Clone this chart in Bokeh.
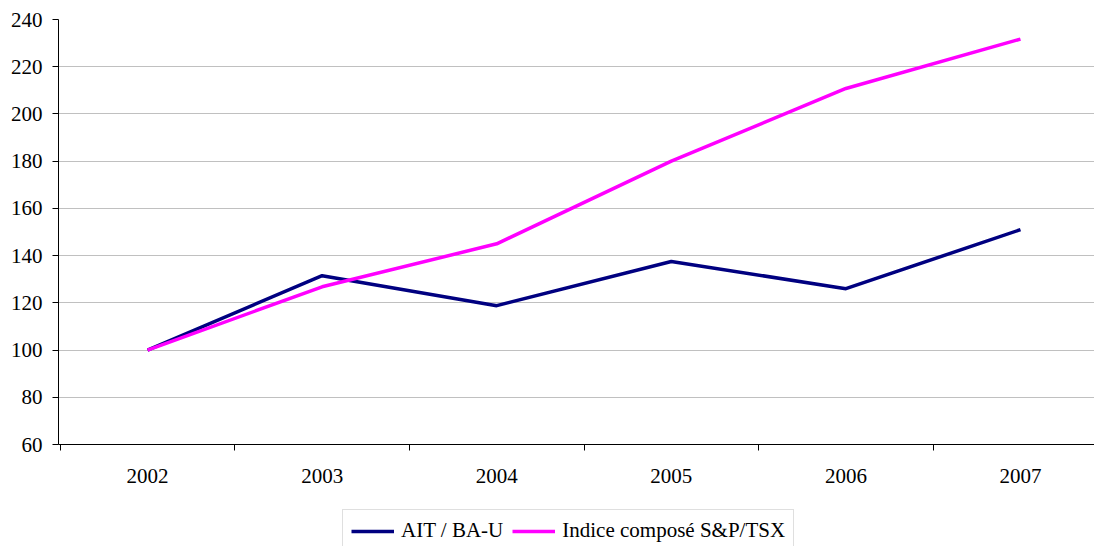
from bokeh.plotting import figure
from bokeh.layouts import column
from bokeh.models import Range1d, FixedTicker, Legend, LegendItem
from bokeh.embed import file_html
from bokeh.resources import INLINE

years = ["2002", "2003", "2004", "2005", "2006", "2007"]
ait = [100.0, 131.5, 118.8, 137.5, 126.0, 151.0]
tsx = [100.0, 126.8, 145.0, 180.0, 210.8, 231.7]
y_ticks = [60, 80, 100, 120, 140, 160, 180, 200, 220, 240]
series_names = ["AIT / BA-U", "Indice composé S&P/TSX"]
series_colors = ["#000080", "#ff00ff"]

FONT = "Liberation Serif"
FS = "21px"

x = list(range(len(years)))

p = figure(width=1094, height=500, output_backend="svg", toolbar_location=None,
           x_range=Range1d(-0.51, 5.424), y_range=Range1d(60, 240),
           min_border_left=58, min_border_right=0, min_border_top=19,
           min_border_bottom=56)
p.outline_line_color = None
p.background_fill_color = "white"
p.border_fill_color = "white"
p.xgrid.visible = False
p.ygrid.grid_line_color = "#c0c0c0"
p.ygrid.grid_line_width = 1
p.ygrid.ticker = FixedTicker(ticks=y_ticks)

# y axis
p.yaxis.ticker = FixedTicker(ticks=y_ticks)
p.yaxis.axis_line_color = "black"
p.yaxis.major_tick_line_color = "black"
p.yaxis.major_tick_out = 6
p.yaxis.major_tick_in = 0
p.yaxis.minor_tick_line_color = None
p.yaxis.major_label_standoff = 10
p.yaxis.major_label_text_font = FONT
p.yaxis.major_label_text_font_size = FS
p.yaxis.major_label_text_color = "black"

# x axis: labels at category centres, tick marks between categories
bounds = [i - 0.5 for i in range(len(years) + 1)]
p.xaxis.ticker = FixedTicker(ticks=x, minor_ticks=bounds)
p.xaxis.major_label_overrides = {i: years[i] for i in x}
p.xaxis.axis_line_color = "black"
p.xaxis.major_tick_line_color = None
p.xaxis.major_tick_out = 0
p.xaxis.major_tick_in = 0
p.xaxis.minor_tick_line_color = "black"
p.xaxis.minor_tick_out = 6
p.xaxis.minor_tick_in = 0
p.xaxis.major_label_standoff = 18
p.xaxis.major_label_text_font = FONT
p.xaxis.major_label_text_font_size = FS
p.xaxis.major_label_text_color = "black"

p.line(x, ait, line_color=series_colors[0], line_width=3.5)
p.line(x, tsx, line_color=series_colors[1], line_width=3.5)

# legend strip below the chart (its lines carry the same data, kept out of view)
lg = figure(width=1094, height=46, output_backend="svg", toolbar_location=None,
            x_range=Range1d(0, 1), y_range=Range1d(0, 1),
            x_axis_type=None, y_axis_type=None, min_border=0)
lg.outline_line_color = None
lg.grid.visible = False
d1 = lg.line(x, ait, line_color=series_colors[0], line_width=3.5)
d2 = lg.line(x, tsx, line_color=series_colors[1], line_width=3.5)

legend = Legend(items=[LegendItem(label=series_names[0], renderers=[d1]),
                       LegendItem(label=series_names[1], renderers=[d2])],
                orientation="horizontal", location=(284, -6))
legend.border_line_color = "#c0c0c0"
legend.border_line_width = 1
legend.padding = 8
legend.spacing = 9
legend.margin = 0
legend.label_standoff = 7
legend.glyph_width = 43
legend.glyph_height = 20
legend.label_text_font = FONT
legend.label_text_font_size = FS
legend.label_text_color = "black"
legend.background_fill_color = "white"
legend.background_fill_alpha = 1
lg.add_layout(legend)

layout = column(p, lg, spacing=0)
open("out.html", "w").write(file_html(layout, INLINE))
